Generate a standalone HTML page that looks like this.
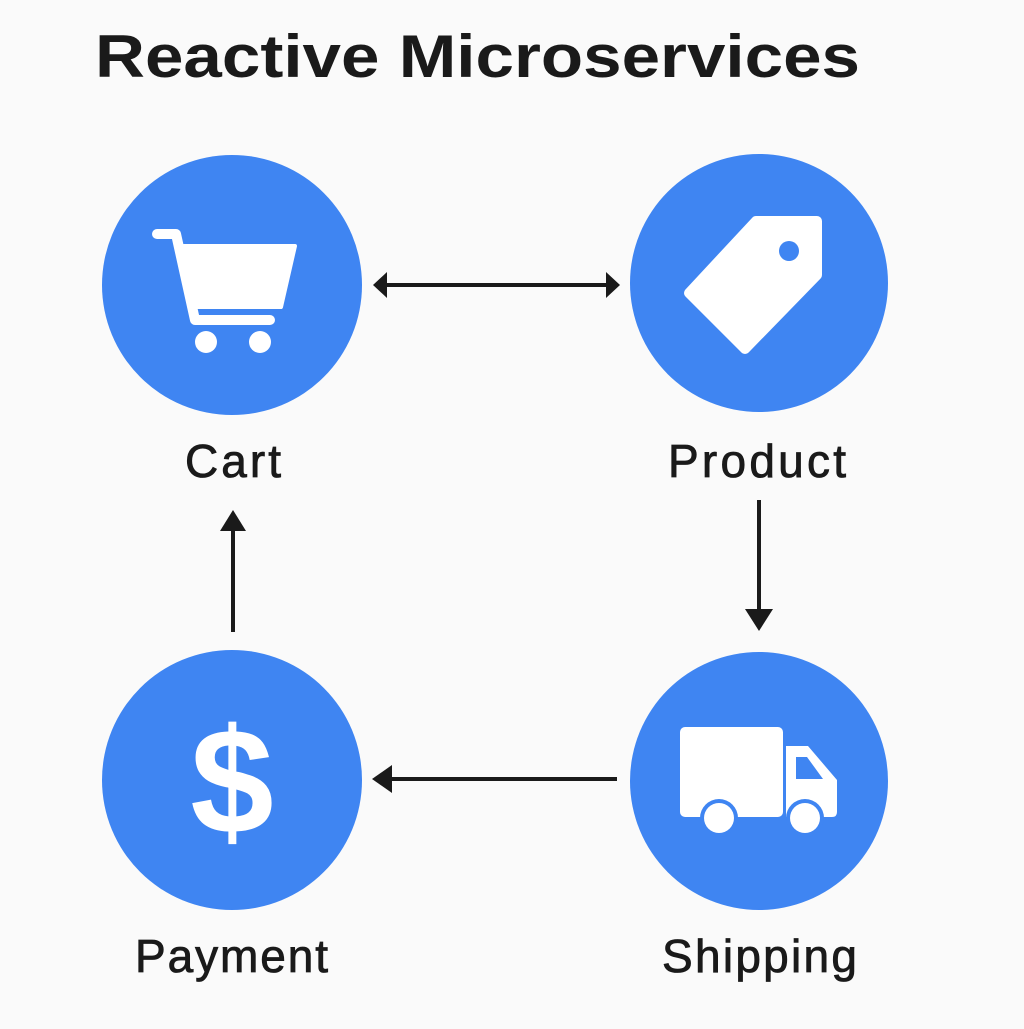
<!DOCTYPE html>
<html><head><style>body{margin:0;background:#fafafa}</style></head><body>
<svg width="1024" height="1024" viewBox="0 0 1024 1024" xmlns="http://www.w3.org/2000/svg" font-family="Liberation Sans, sans-serif">
<rect width="1024" height="1024" fill="#fafafa"/>
<text x="95" y="77" font-size="60" font-weight="bold" fill="#1a1a1a" textLength="765" lengthAdjust="spacingAndGlyphs">Reactive Microservices</text>
<g fill="#3f85f2">
<circle cx="232" cy="285" r="130"/>
<circle cx="759" cy="283" r="129"/>
<circle cx="232" cy="780" r="130"/>
<circle cx="759" cy="781" r="129"/>
</g>
<!-- cart -->
<g fill="#fff" stroke="#fff" stroke-linejoin="round" stroke-linecap="round">
<path d="M157 234 H176 L195 320 H270" fill="none" stroke-width="10"/>
<path d="M184 246 H295 L281 307 H197 Z" stroke-width="4"/>
<circle cx="206" cy="342" r="11" stroke="none"/>
<circle cx="260" cy="342" r="11" stroke="none"/>
</g>
<!-- tag -->
<path d="M756 221 H817 V275 L745 349 L689 293 Z" fill="#fff" stroke="#fff" stroke-width="10" stroke-linejoin="round"/>
<circle cx="789" cy="251" r="10" fill="#3f85f2"/>
<!-- truck -->
<g fill="#fff">
<rect x="680" y="727" width="103" height="90" rx="5"/>
<path d="M786 746 H808 L837 780 V812 Q837 817 832 817 H786 Z"/>
<path d="M796 757 H807 L823 779 H796 Z" fill="#3f85f2"/>
<circle cx="719" cy="818" r="19" fill="#3f85f2"/>
<circle cx="805" cy="818" r="19" fill="#3f85f2"/>
<circle cx="719" cy="818" r="15"/>
<circle cx="805" cy="818" r="15"/>
</g>
<!-- dollar -->
<text x="232" y="833" font-size="150" font-weight="bold" fill="#fff" text-anchor="middle">$</text>
<!-- arrows -->
<g stroke="#1a1a1a" stroke-width="4" fill="none">
<line x1="385" y1="285" x2="608" y2="285"/>
<line x1="759" y1="500" x2="759" y2="615"/>
<line x1="617" y1="779" x2="386" y2="779"/>
<line x1="233" y1="632" x2="233" y2="525"/>
</g>
<g fill="#1a1a1a">
<path d="M373 285 L387 272 L387 298 Z"/>
<path d="M620 285 L606 272 L606 298 Z"/>
<path d="M759 631 L745 609 L773 609 Z"/>
<path d="M372 779 L392 765 L392 793 Z"/>
<path d="M233 510 L220 531 L246 531 Z"/>
</g>
<g font-size="46" fill="#1a1a1a" stroke="#1a1a1a" stroke-width="0.8" lengthAdjust="spacingAndGlyphs">
<text x="185" y="477" textLength="96">Cart</text>
<text x="668" y="477" textLength="178">Product</text>
<text x="135" y="972" textLength="193">Payment</text>
<text x="662" y="972" textLength="195">Shipping</text>
</g>
</svg>
</body></html>
